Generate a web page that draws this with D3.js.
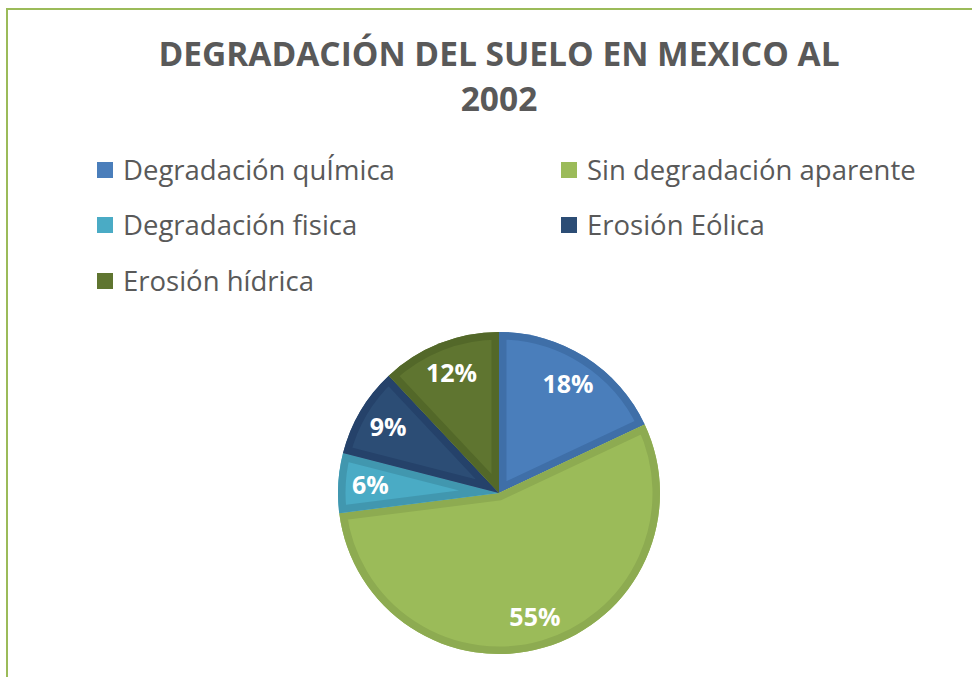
<!-- HTML -->
<style>body { margin: 0; }</style>
<div id='vis-pie'></div>

<script src="https://d3js.org/d3.v7.min.js"></script>
<script>
	// Data
	let categories = ["Degradación quÍmica", "Sin degradación aparente", "Degradación fisica", "Erosión Eólica", "Erosión hídrica"];
	let values = [18, 55, 6, 9, 12];
	let fills = ["#4a7ebb", "#9bbb59", "#4aabc5", "#2c4d75", "#5f7530"];
	let bands = ["#3f6fa8", "#8dab51", "#4197af", "#25426a", "#536829"];
	let titleLines = ["DEGRADACIÓN DEL SUELO EN MEXICO AL", "2002"];

	function pievis() {
		let width = 972, height = 677;
		let svg = d3.select("#vis-pie")
			.append("svg")
				.attr("width", width)
				.attr("height", height)
				.style("display", "block");

		svg.append("rect").attr("width", width).attr("height", height).attr("fill", "white");

		// frame (top and left visible)
		svg.append("path")
			.attr("d", "M7," + height + " L7,9 L" + width + ",9")
			.attr("fill", "none")
			.attr("stroke", "#9bbb59")
			.attr("stroke-width", 2);

		// Title
		svg.append("text")
			.attr("x", 499)
			.attr("y", 66)
			.attr("text-anchor", "middle")
			.style("font-family", "'Open Sans', sans-serif")
			.style("font-weight", "bold")
			.style("font-size", "33.5px")
			.style("fill", "#595959")
			.selectAll("tspan")
			.data(titleLines)
			.enter().append("tspan")
				.attr("x", 499)
				.attr("dy", (d, i) => i === 0 ? 0 : 45)
				.text(d => d);

		// Legend
		let legendPos = [[97, 170], [561, 170], [97, 225], [561, 225], [97, 281]];
		let legend = svg.selectAll(".legend")
			.data(categories)
			.enter().append("g")
				.attr("class", "legend")
				.attr("transform", (d, i) => "translate(" + legendPos[i][0] + "," + legendPos[i][1] + ")");
		legend.append("rect")
			.attr("x", 0).attr("y", -8)
			.attr("width", 16).attr("height", 16)
			.attr("fill", (d, i) => fills[i]);
		legend.append("text")
			.attr("x", 26)
			.attr("y", 0)
			.attr("dy", "0.36em")
			.style("font-family", "'Open Sans', sans-serif")
			.style("font-size", "27.5px")
			.style("fill", "#595959")
			.text(d => d);

		// Pie
		let cx = 499, cy = 493, r = 161;
		let pie = d3.pie().sort(null).value(d => d);
		let arcs = pie(values);
		let arc = d3.arc().innerRadius(0).outerRadius(r);
		let labelArc = d3.arc().innerRadius(r * 0.8).outerRadius(r * 0.8);

		let g = svg.append("g").attr("transform", "translate(" + cx + "," + cy + ")");
		let defs = svg.append("defs");
		defs.selectAll("clipPath")
			.data(arcs)
			.enter().append("clipPath")
				.attr("id", (d, i) => "slice-clip-" + i)
			.append("path")
				.attr("d", arc);

		let slices = g.selectAll(".slice")
			.data(arcs)
			.enter().append("g")
				.attr("class", "slice");
		slices.append("path")
			.attr("d", arc)
			.attr("fill", (d, i) => fills[i]);
		// darker inner band along each slice edge
		slices.append("path")
			.attr("d", arc)
			.attr("fill", "none")
			.attr("stroke", (d, i) => bands[i])
			.attr("stroke-width", 15)
			.attr("stroke-linejoin", "miter")
			.attr("clip-path", (d, i) => "url(#slice-clip-" + i + ")");

		g.selectAll(".label")
			.data(arcs)
			.enter().append("text")
				.attr("class", "label")
				.attr("transform", d => "translate(" + labelArc.centroid(d) + ")")
				.attr("text-anchor", "middle")
				.attr("dy", "0.36em")
				.style("font-family", "'Open Sans', sans-serif")
				.style("font-weight", "bold")
				.style("font-size", "25px")
				.style("fill", "white")
				.text(d => d.data + "%");
	}

	pievis();
</script>
